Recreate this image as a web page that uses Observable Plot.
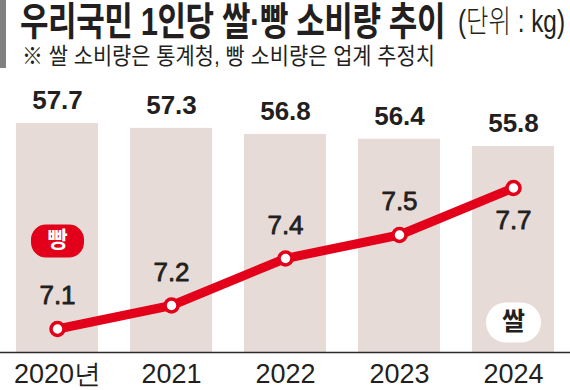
<!DOCTYPE html>
<html><head><meta charset="utf-8">
<script src="https://cdn.jsdelivr.net/npm/d3@7"></script>
<script src="https://cdn.jsdelivr.net/npm/@observablehq/plot@0.6"></script>
<style>
body{margin:0;background:#fff;width:570px;height:390px;overflow:hidden}
#head{position:relative;width:570px;height:72px}
#head .fit{position:absolute;white-space:nowrap;display:inline-block;transform-origin:0 0;line-height:1;color:#231f20}
#gbar{position:absolute;left:0;top:0;width:6px;height:68px;background:#808080}
#title{left:20px;top:2px;font-family:"Liberation Sans","Noto Sans CJK KR";font-weight:700;font-size:39px;letter-spacing:-0.5px}
#unit{left:458px;top:5.8px;font-family:"Liberation Sans","Noto Sans CJK KR";font-weight:300;font-size:31px}
#sub{left:22px;top:44.5px;font-family:"Liberation Sans","Noto Sans CJK KR";font-weight:400;font-size:23px}
</style></head>
<body>
<div id="head">
  <div id="gbar"></div>
  <div class="fit" id="title">우리국민 1인당 쌀·빵 소비량 추이</div>
  <div class="fit" id="unit">(단위 : kg)</div>
  <div class="fit" id="sub">※ 쌀 소비량은 통계청, 빵 소비량은 업계 추정치</div>
</div>
<div id="chart"></div>
<script>
const years = ["2020", "2021", "2022", "2023", "2024"];
const yearLabels = ["2020년", "2021", "2022", "2023", "2024"];
const rice = [57.7, 57.3, 56.8, 56.4, 55.8];
const bread = [7.1, 7.2, 7.4, 7.5, 7.7];
const riceAxis = [38.75, 58.2];   // rice (kg) extent of the drawing area
const breadAxis = [7.0, 8.0];     // bread (kg) extent of the same area
const red = "#e2001a";
const ink = "#231f20";

function fit(id, w) {
  const el = document.getElementById(id);
  const r = el.getBoundingClientRect().width;
  el.style.transform = `scaleX(${w / r})`;
}
fit("title", 425);
fit("unit", 107);
fit("sub", 413);

const toRice = d3.scaleLinear(breadAxis, riceAxis);
const data = years.map((year, i) => ({
  year, label: yearLabels[i], rice: rice[i], bread: bread[i], breadY: toRice(bread[i])
}));
const labelOf = Object.fromEntries(data.map(d => [d.year, d.label]));

function pill(w, h, r) {
  return {
    draw(ctx) {
      const x0 = -w / 2, y0 = -h / 2, x1 = w / 2, y1 = h / 2;
      ctx.moveTo(x0 + r, y0);
      ctx.lineTo(x1 - r, y0);
      ctx.arcTo(x1, y0, x1, y0 + r, r);
      ctx.lineTo(x1, y1 - r);
      ctx.arcTo(x1, y1, x1 - r, y1, r);
      ctx.lineTo(x0 + r, y1);
      ctx.arcTo(x0, y1, x0, y1 - r, r);
      ctx.lineTo(x0, y0 + r);
      ctx.arcTo(x0, y0, x0 + r, y0, r);
      ctx.closePath();
    }
  };
}

const numFont = "'Liberation Sans', Arial, sans-serif";
const chart = Plot.plot({
  width: 570,
  height: 318,
  marginLeft: 0, marginRight: 0, marginTop: 45, marginBottom: 38,
  style: {background: "transparent"},
  x: {type: "band", domain: years, paddingInner: 0.281, paddingOuter: 0.14, label: null},
  y: {domain: riceAxis, axis: null},
  marks: [
    Plot.barY(data, {x: "year", y1: d => riceAxis[0], y2: "rice", fill: "#e6dbd6"}),
    Plot.ruleY([riceAxis[0]], {stroke: "#2b2b2b", strokeWidth: 1.5}),
    Plot.line(data, {x: "year", y: "breadY", stroke: red, strokeWidth: 9, strokeLinejoin: "round"}),
    Plot.dot(data, {x: "year", y: "breadY", r: 6.5, fill: "white", stroke: red, strokeWidth: 3.5}),
    Plot.text(data, {x: "year", y: "rice", text: d => d.rice.toFixed(1), dy: -22.4, fontSize: 26, fontWeight: "bold", fill: ink, fontFamily: numFont}),
    Plot.text(data.slice(0, 4), {x: "year", y: "breadY", text: d => d.bread.toFixed(1), dy: -33, fontSize: 26, fill: ink, stroke: ink, strokeWidth: 0.8, paintOrder: "normal", fontFamily: numFont}),
    Plot.text(data.slice(4), {x: "year", y: "breadY", text: d => d.bread.toFixed(1), dy: 33, fontSize: 26, fill: ink, stroke: ink, strokeWidth: 0.8, paintOrder: "normal", fontFamily: numFont}),
    Plot.dot(data.slice(0, 1), {x: "year", y: "breadY", dy: -88, symbol: pill(53, 33, 15), fill: red, stroke: "none"}),
    Plot.text(data.slice(0, 1), {x: "year", y: "breadY", dy: -89, text: () => "빵", fill: "white", fontSize: 22, fontWeight: "bold", fontFamily: "Noto Sans CJK KR"}),
    Plot.dot(data.slice(4), {x: "year", y: d => riceAxis[0], dy: -30, symbol: pill(55, 40, 20), fill: "white", stroke: "none"}),
    Plot.text(data.slice(4), {x: "year", y: d => riceAxis[0], dy: -31, text: () => "쌀", fill: ink, fontSize: 25, fontWeight: "bold", fontFamily: "Noto Sans CJK KR"}),
    Plot.axisX({tickSize: 0, tickPadding: 11.5, fontSize: 27, fill: ink, fontFamily: "'Liberation Sans Narrow', 'Liberation Sans', sans-serif", tickFormat: d => labelOf[d], label: null})
  ]
});
document.getElementById("chart").appendChild(chart);
</script>
</body></html>
